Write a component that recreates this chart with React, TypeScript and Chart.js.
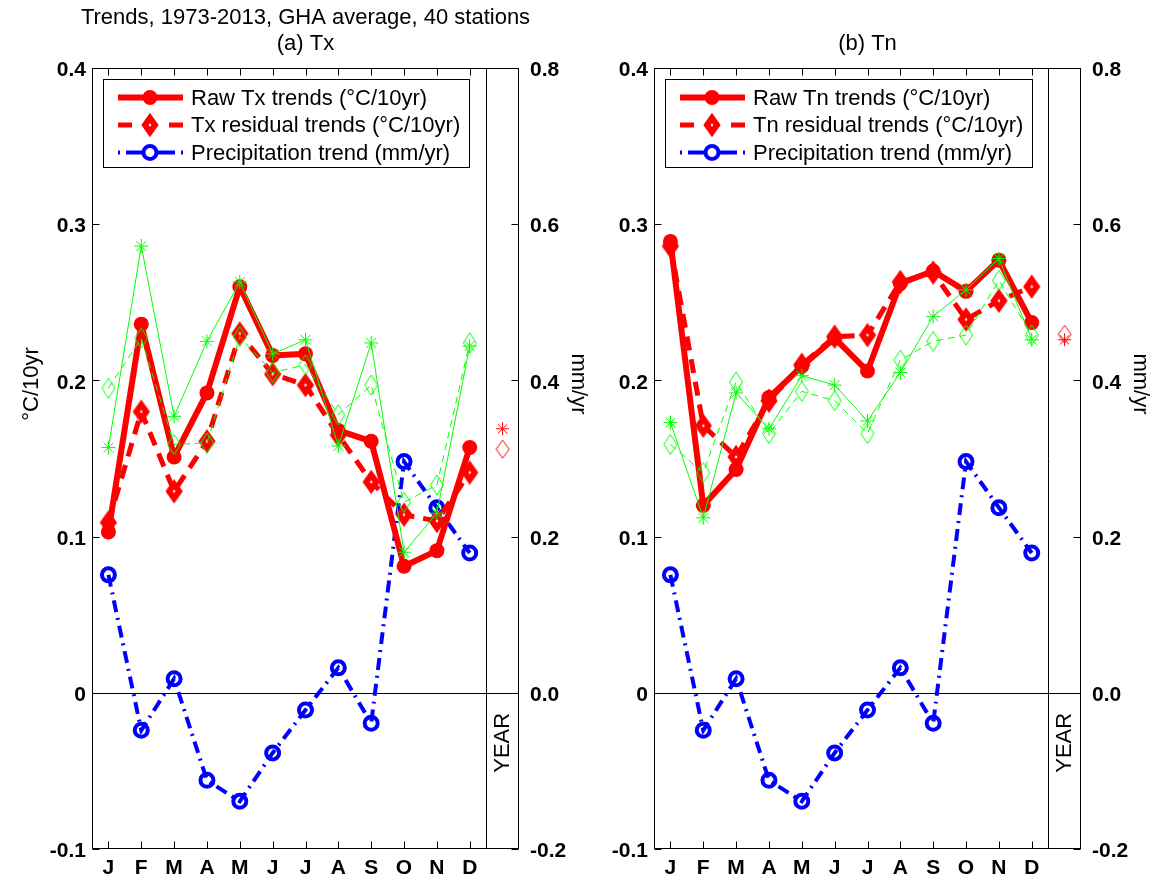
import React, { useEffect, useRef } from 'react';
import { Chart, registerables } from 'chart.js';

Chart.register(...registerables);

// ---------------- data ----------------
const months = ['J', 'F', 'M', 'A', 'M', 'J', 'J', 'A', 'S', 'O', 'N', 'D'];
const yLeftTicks = [-0.1, 0, 0.1, 0.2, 0.3, 0.4];
const yRightTicks = [-0.2, 0, 0.2, 0.4, 0.6, 0.8];

const txRaw = [0.103, 0.236, 0.151, 0.192, 0.26, 0.216, 0.217, 0.168, 0.161, 0.081, 0.091, 0.157];
const txResidual = [0.109, 0.18, 0.129, 0.161, 0.23, 0.204, 0.197, 0.165, 0.135, 0.114, 0.11, 0.141];
const txGreenStar = [0.157, 0.286, 0.177, 0.225, 0.263, 0.217, 0.226, 0.158, 0.224, 0.09, 0.115, 0.222];
const txGreenDiamond = [0.195, 0.227, 0.159, 0.16, 0.228, 0.205, 0.21, 0.178, 0.197, 0.122, 0.133, 0.224];
const txYearStar = 0.169;
const txYearDiamond = 0.156;

const tnRaw = [0.289, 0.12, 0.143, 0.189, 0.209, 0.227, 0.206, 0.262, 0.27, 0.257, 0.277, 0.237];
const tnResidual = [0.286, 0.171, 0.151, 0.187, 0.21, 0.228, 0.229, 0.263, 0.269, 0.239, 0.251, 0.26];
const tnGreenStar = [0.173, 0.112, 0.192, 0.169, 0.203, 0.197, 0.174, 0.205, 0.241, 0.258, 0.278, 0.226];
const tnGreenDiamond = [0.159, 0.141, 0.199, 0.166, 0.193, 0.187, 0.166, 0.213, 0.225, 0.229, 0.264, 0.229];
const tnYearStar = 0.226;
const tnYearDiamond = 0.2295;

const precip = [0.151, -0.048, 0.018, -0.112, -0.139, -0.077, -0.022, 0.032, -0.039, 0.296, 0.237, 0.179];

const txLegend = ['Raw Tx trends (\u00B0C/10yr)', 'Tx residual trends (\u00B0C/10yr)', 'Precipitation trend (mm/yr)'];
const tnLegend = ['Raw Tn trends (\u00B0C/10yr)', 'Tn residual trends (\u00B0C/10yr)', 'Precipitation trend (mm/yr)'];

// ---------------- styling ----------------
const FONT = '"Liberation Sans", Arial, Helvetica, sans-serif';
const RED = '#ff0000';
const BLUE = '#0000ff';
const GREEN = '#00ff00';
const H = 884;

function makeDiamond(hw: number, hh: number, lw: number, stroke: string, fill: string | null) {
  const pad = Math.ceil(lw * 2) + 2;
  const c = document.createElement('canvas');
  c.width = 2 * Math.ceil(hw + pad);
  c.height = 2 * Math.ceil(hh + pad);
  const g = c.getContext('2d')!;
  const cx = c.width / 2;
  const cy = c.height / 2;
  g.beginPath();
  g.moveTo(cx, cy - hh);
  g.lineTo(cx + hw, cy);
  g.lineTo(cx, cy + hh);
  g.lineTo(cx - hw, cy);
  g.closePath();
  if (fill) {
    g.fillStyle = fill;
    g.fill();
  }
  g.lineJoin = 'miter';
  g.lineWidth = lw;
  g.strokeStyle = stroke;
  g.stroke();
  return c;
}

type PanelCfg = {
  canvasLeft: number;
  canvasWidth: number;
  leftAxisW: number;
  rightAxisW: number;
  topTitle: string | null;
  title: string;
  leftTitle: string | null;
  rightTitle: string;
  legend: string[];
  raw: number[];
  residual: number[];
  greenStar: number[];
  greenDiamond: number[];
  yearStar: number;
  yearDiamond: number;
};

const pts = (vals: number[]) => vals.map((v, i) => ({ x: i + 1, y: v }));

function buildChart(canvas: HTMLCanvasElement, cfg: PanelCfg) {
  const redDiamond = makeDiamond(5, 7, 6, RED, '#ffffff');
  const greenDiamond = makeDiamond(6.5, 10, 1, GREEN, null);
  const yearDiamond = makeDiamond(6.5, 9, 1, RED, null);

  const line = (ctx: CanvasRenderingContext2D, x1: number, y1: number, x2: number, y2: number) => {
    ctx.beginPath();
    ctx.moveTo(x1, y1);
    ctx.lineTo(x2, y2);
    ctx.stroke();
  };

  const decor = {
    id: 'decor',
    beforeDatasetsDraw(chart: any) {
      const { ctx, chartArea: a, scales } = chart;
      const xs = scales.x;
      const y = scales.y;
      const y2 = scales.y2;
      ctx.save();
      ctx.strokeStyle = '#000';
      ctx.lineWidth = 1;
      const L = a.left + 0.5;
      const R = a.right - 0.5;
      const T = a.top + 0.5;
      const B = a.bottom - 0.5;
      // frame
      ctx.strokeRect(L, T, R - L, B - T);
      // zero line
      const y0 = Math.round(y.getPixelForValue(0)) + 0.5;
      line(ctx, L, y0, R, y0);
      // separator before YEAR column
      const sx = Math.round(xs.getPixelForValue(12.5)) + 0.5;
      line(ctx, sx, T, sx, B);
      // inward ticks
      const TL = 7;
      months.forEach((_, i) => {
        const px = Math.round(xs.getPixelForValue(i + 1)) + 0.5;
        line(ctx, px, B, px, B - TL);
        line(ctx, px, T, px, T + TL);
      });
      yLeftTicks.forEach((v) => {
        const py = Math.round(y.getPixelForValue(v)) + 0.5;
        line(ctx, L, py, L + TL, py);
      });
      yRightTicks.forEach((v) => {
        const py = Math.round(y2.getPixelForValue(v)) + 0.5;
        line(ctx, R, py, R - TL, py);
      });
      ctx.restore();
    },
    afterDraw(chart: any) {
      const { ctx, chartArea: a, scales } = chart;
      const xs = scales.x;
      const y = scales.y;
      ctx.save();
      // legend
      ctx.font = `22px ${FONT}`;
      const maxW = Math.max(...cfg.legend.map((l) => ctx.measureText(l).width));
      const bx = Math.round(a.left + 11);
      const by = Math.round(a.top + 11);
      const bw = Math.round(88 + maxW + 9);
      const bh = 88;
      ctx.fillStyle = '#fff';
      ctx.fillRect(bx, by, bw, bh);
      ctx.strokeStyle = '#000';
      ctx.lineWidth = 1;
      ctx.strokeRect(bx + 0.5, by + 0.5, bw, bh);
      const rows = [by + 18.5, by + 46, by + 73.5];
      const s0 = bx + 15;
      const s1 = bx + 80;
      const mc = bx + 47;
      // raw
      ctx.strokeStyle = RED;
      ctx.lineWidth = 6;
      line(ctx, s0, rows[0], s1, rows[0]);
      ctx.fillStyle = RED;
      ctx.beginPath();
      ctx.arc(mc, rows[0], 7.5, 0, Math.PI * 2);
      ctx.fill();
      // residual
      ctx.lineWidth = 5;
      line(ctx, s0, rows[1], s0 + 14, rows[1]);
      line(ctx, s1 - 14, rows[1], s1, rows[1]);
      ctx.drawImage(redDiamond, mc - redDiamond.width / 2, rows[1] - redDiamond.height / 2);
      // precip
      ctx.strokeStyle = BLUE;
      ctx.lineWidth = 4;
      line(ctx, s0, rows[2], s0 + 2, rows[2]);
      line(ctx, s0 + 8, rows[2], s1 - 8, rows[2]);
      line(ctx, s1 - 2, rows[2], s1, rows[2]);
      ctx.fillStyle = '#fff';
      ctx.beginPath();
      ctx.arc(mc, rows[2], 6.5, 0, Math.PI * 2);
      ctx.fill();
      ctx.stroke();
      ctx.fillStyle = '#000';
      ctx.textAlign = 'left';
      ctx.textBaseline = 'middle';
      cfg.legend.forEach((l, i) => ctx.fillText(l, bx + 88, rows[i] + 1));

      // titles
      const cx = (a.left + a.right) / 2;
      ctx.textAlign = 'center';
      ctx.font = `22px ${FONT}`;
      if (cfg.topTitle) ctx.fillText(cfg.topTitle, cx, 18);
      ctx.fillText(cfg.title, cx, 44);

      // axis titles
      const ty = 384;
      if (cfg.leftTitle) {
        ctx.save();
        ctx.translate(a.left - 60, ty);
        ctx.rotate(-Math.PI / 2);
        ctx.fillText(cfg.leftTitle, 0, 0);
        ctx.restore();
      }
      ctx.save();
      ctx.translate(a.right + 59, ty);
      ctx.rotate(Math.PI / 2);
      ctx.fillText(cfg.rightTitle, 0, 0);
      ctx.restore();

      // YEAR label
      ctx.save();
      ctx.translate(xs.getPixelForValue(13), y.getPixelForValue(-0.032));
      ctx.rotate(-Math.PI / 2);
      ctx.fillText('YEAR', 0, 0);
      ctx.restore();

      ctx.restore();
    },
  };

  const transparent = 'rgba(0,0,0,0)';

  return new Chart(canvas, {
    type: 'line',
    data: {
      datasets: [
        {
          label: 'green star',
          data: pts(cfg.greenStar),
          yAxisID: 'y',
          borderColor: GREEN,
          borderWidth: 1,
          pointStyle: 'star',
          pointRadius: 7,
          pointBorderColor: GREEN,
          pointBorderWidth: 1,
          pointBackgroundColor: transparent,
        },
        {
          label: 'green diamond',
          data: pts(cfg.greenDiamond),
          yAxisID: 'y',
          borderColor: GREEN,
          borderWidth: 1,
          borderDash: [7, 5],
          pointStyle: greenDiamond as any,
          pointRadius: 8,
        },
        {
          label: 'raw',
          data: pts(cfg.raw),
          yAxisID: 'y',
          borderColor: RED,
          borderWidth: 6,
          borderJoinStyle: 'round',
          pointStyle: 'circle',
          pointRadius: 7.5,
          pointBackgroundColor: RED,
          pointBorderColor: RED,
          pointBorderWidth: 0,
        },
        {
          label: 'residual',
          data: pts(cfg.residual),
          yAxisID: 'y',
          borderColor: RED,
          borderWidth: 5,
          borderDash: [14, 9],
          borderJoinStyle: 'round',
          pointStyle: redDiamond as any,
          pointRadius: 9,
        },
        {
          label: 'precip',
          data: pts(precip),
          yAxisID: 'y2',
          borderColor: BLUE,
          borderWidth: 4,
          borderDash: [12, 6, 2, 6],
          pointStyle: 'circle',
          pointRadius: 6.5,
          pointBorderWidth: 4,
          pointBorderColor: BLUE,
          pointBackgroundColor: transparent,
        },
        {
          label: 'year star',
          data: [{ x: 13, y: cfg.yearStar }],
          yAxisID: 'y',
          showLine: false,
          pointStyle: 'star',
          pointRadius: 6.5,
          pointBorderColor: RED,
          pointBorderWidth: 1,
          borderColor: RED,
        },
        {
          label: 'year diamond',
          data: [{ x: 13, y: cfg.yearDiamond }],
          yAxisID: 'y',
          showLine: false,
          pointStyle: yearDiamond as any,
          pointRadius: 8,
          borderColor: RED,
        },
      ],
    },
    options: {
      responsive: false,
      maintainAspectRatio: false,
      animation: false,
      devicePixelRatio: 1,
      layout: { padding: { top: 68, left: 0, right: 0, bottom: 0 } },
      plugins: {
        legend: { display: false },
        tooltip: { enabled: false },
        title: { display: false },
      },
      scales: {
        x: {
          type: 'linear',
          min: 0.5,
          max: 13.5,
          afterBuildTicks: (axis: any) => {
            axis.ticks = months.map((_, i) => ({ value: i + 1 }));
          },
          afterFit: (s: any) => {
            s.height = 35;
          },
          grid: { display: false, drawTicks: false },
          border: { display: false },
          ticks: {
            autoSkip: false,
            maxRotation: 0,
            padding: 7,
            color: '#000',
            font: { family: FONT, size: 21, weight: 'bold' },
            callback: (v: any) => months[Math.round(Number(v)) - 1] ?? '',
          },
        },
        y: {
          type: 'linear',
          position: 'left',
          min: -0.1,
          max: 0.4,
          afterBuildTicks: (axis: any) => {
            axis.ticks = yLeftTicks.map((v) => ({ value: v }));
          },
          afterFit: (s: any) => {
            s.width = cfg.leftAxisW;
          },
          grid: { display: false, drawTicks: false },
          border: { display: false },
          ticks: {
            padding: 6,
            labelOffset: 2.5,
            color: '#000',
            font: { family: FONT, size: 21, weight: 'bold' },
            callback: (v: any) => (Math.abs(Number(v)) < 1e-9 ? '0' : Number(v).toFixed(1)),
          },
        },
        y2: {
          type: 'linear',
          position: 'right',
          min: -0.2,
          max: 0.8,
          afterBuildTicks: (axis: any) => {
            axis.ticks = yRightTicks.map((v) => ({ value: v }));
          },
          afterFit: (s: any) => {
            s.width = cfg.rightAxisW;
          },
          grid: { display: false, drawTicks: false },
          border: { display: false },
          ticks: {
            padding: 11,
            labelOffset: 2.5,
            color: '#000',
            font: { family: FONT, size: 21, weight: 'bold' },
            callback: (v: any) => (Math.abs(Number(v)) < 1e-9 ? '0.0' : Number(v).toFixed(1)),
          },
        },
      },
    } as any,
    plugins: [decor],
  });
}

function Panel({ cfg }: { cfg: PanelCfg }) {
  const ref = useRef<HTMLCanvasElement>(null);
  useEffect(() => {
    const chart = buildChart(ref.current!, cfg);
    return () => chart.destroy();
  }, []);
  return (
    <canvas
      ref={ref}
      width={cfg.canvasWidth}
      height={H}
      style={{ position: 'absolute', left: cfg.canvasLeft, top: 0, width: cfg.canvasWidth, height: H }}
    />
  );
}

const leftPanel: PanelCfg = {
  canvasLeft: 0,
  canvasWidth: 595,
  leftAxisW: 92,
  rightAxisW: 76,
  topTitle: 'Trends, 1973-2013, GHA average, 40 stations',
  title: '(a) Tx',
  leftTitle: '\u00B0C/10yr',
  rightTitle: 'mm/yr',
  legend: txLegend,
  raw: txRaw,
  residual: txResidual,
  greenStar: txGreenStar,
  greenDiamond: txGreenDiamond,
  yearStar: txYearStar,
  yearDiamond: txYearDiamond,
};

const rightPanel: PanelCfg = {
  canvasLeft: 595,
  canvasWidth: 568,
  leftAxisW: 59,
  rightAxisW: 82,
  topTitle: null,
  title: '(b) Tn',
  leftTitle: null,
  rightTitle: 'mm/yr',
  legend: tnLegend,
  raw: tnRaw,
  residual: tnResidual,
  greenStar: tnGreenStar,
  greenDiamond: tnGreenDiamond,
  yearStar: tnYearStar,
  yearDiamond: tnYearDiamond,
};

export default function App() {
  return (
    <div style={{ position: 'absolute', left: 0, top: 0, width: 1163, height: H }}>
      <Panel cfg={leftPanel} />
      <Panel cfg={rightPanel} />
    </div>
  );
}
